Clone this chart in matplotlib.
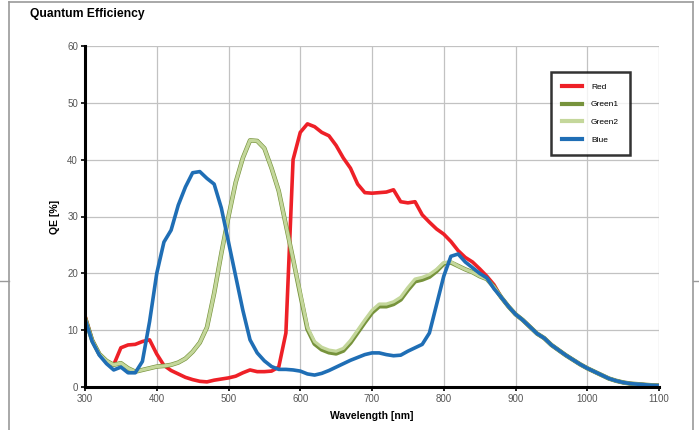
import matplotlib
matplotlib.use("Agg")
import matplotlib.pyplot as plt
from matplotlib.lines import Line2D

plt.rcParams['font.family'] = ['Liberation Sans', 'DejaVu Sans']

wavelength = list(range(300, 1110, 10))

# shared tail 880..1100 nm, all channels overlap there
tail = [15.8, 14.2, 12.8, 11.8, 10.6, 9.4, 8.6, 7.4, 6.5, 5.6, 4.8, 4.0,
        3.3, 2.7, 2.1, 1.5, 1.1, 0.8, 0.6, 0.5, 0.4, 0.3, 0.25]

red = [12.5, 8.3, 5.8, 4.5, 3.9, 6.9, 7.4, 7.5, 8.0, 8.3,
       5.8, 3.8, 2.9, 2.3, 1.7, 1.3, 1.0, 0.9, 1.2, 1.4,
       1.6, 1.9, 2.5, 3.0, 2.7, 2.7, 2.8, 3.5, 9.5, 40.0,
       44.8, 46.3, 45.8, 44.8, 44.2, 42.5, 40.3, 38.5, 35.7, 34.2,
       34.1, 34.2, 34.3, 34.7, 32.6, 32.4, 32.6, 30.3, 29.0, 27.8,
       26.9, 25.6, 24.0, 22.8, 22.0, 20.8, 19.5, 18.0] + tail

green2 = [12.2, 8.2, 5.8, 4.6, 3.9, 4.2, 3.3, 2.7, 3.0, 3.3,
          3.6, 3.7, 3.9, 4.3, 5.0, 6.2, 7.8, 10.5, 16.5, 23.5,
          30.0, 36.0, 40.3, 43.4, 43.3, 42.0, 38.5, 34.5, 28.5, 22.5,
          16.5, 10.5, 8.0, 7.0, 6.5, 6.3, 6.8, 8.2, 10.0, 11.8,
          13.5, 14.6, 14.6, 15.0, 15.8, 17.5, 19.0, 19.3, 19.8, 20.7,
          21.9, 22.0, 21.3, 20.7, 20.2, 19.5, 19.0, 17.6] + tail

green1 = [12.2, 8.2, 5.8, 4.6, 3.9, 4.2, 3.3, 2.7, 3.0, 3.3,
          3.6, 3.7, 3.9, 4.3, 5.0, 6.2, 7.8, 10.5, 16.5, 23.5,
          30.0, 36.0, 40.3, 43.4, 43.3, 42.0, 38.5, 34.5, 28.5, 22.5,
          16.3, 10.2, 7.6, 6.6, 6.1, 5.9, 6.4, 7.8, 9.6, 11.4,
          13.1, 14.2, 14.2, 14.6, 15.4, 17.1, 18.6, 18.9, 19.4, 20.4,
          21.7, 21.9, 21.3, 20.7, 20.2, 19.5, 19.0, 17.6] + tail

blue = [12.0, 8.0, 5.6, 4.1, 3.0, 3.5, 2.5, 2.5, 4.5, 11.5,
        20.0, 25.5, 27.6, 32.0, 35.2, 37.7, 37.9, 36.7, 35.7, 31.5,
        25.5, 19.5, 13.5, 8.3, 6.0, 4.6, 3.6, 3.1, 3.1, 3.0,
        2.8, 2.3, 2.1, 2.4, 2.9, 3.5, 4.1, 4.7, 5.2, 5.7,
        6.0, 6.0, 5.7, 5.5, 5.6, 6.3, 6.9, 7.5, 9.5, 14.5,
        19.5, 23.0, 23.4, 22.0, 21.0, 20.0, 19.2, 17.3] + tail

fig = plt.figure(figsize=(6.99, 4.30), dpi=100)
ax = fig.add_axes([85 / 699, 1 - 387 / 430, 574 / 699, 341 / 430])

ax.plot(wavelength, green1, color='#77933c', lw=3.2, label='Green1', zorder=3)
ax.plot(wavelength, green2, color='#c4d79b', lw=2.3, label='Green2', zorder=4)
ax.plot(wavelength, red, color='#ee2027', lw=2.6, label='Red', zorder=2)
ax.plot(wavelength, blue, color='#1f6eb5', lw=2.6, label='Blue', zorder=5)

ax.set_xlim(300, 1100)
ax.set_ylim(0, 60)
ax.set_xticks(range(300, 1101, 100))
ax.set_yticks(range(0, 61, 10))
ax.grid(True, color='#c2c2c2', lw=0.9)
ax.set_axisbelow(True)
for s in ['top', 'right']:
    ax.spines[s].set_visible(False)
for s in ['left', 'bottom']:
    ax.spines[s].set_linewidth(2.2)
    ax.spines[s].set_color('black')
    ax.spines[s].set_zorder(6)
ax.tick_params(axis='both', labelsize=7, labelcolor='#555555', color='black',
               length=3, width=1.2, pad=2)

ax.set_xlabel('Wavelength [nm]', fontsize=7.5, fontweight='bold', labelpad=5)
ax.set_ylabel('QE [%]', fontsize=7.5, fontweight='bold', labelpad=5)

fig.text(30 / 699, 1 - 14 / 430, 'Quantum Efficiency', fontsize=8.7,
         fontweight='bold', va='center', ha='left')

handles, labels = ax.get_legend_handles_labels()
order = [labels.index(n) for n in ['Red', 'Green1', 'Green2', 'Blue']]
leg = ax.legend([handles[i] for i in order], [labels[i] for i in order],
                loc='upper left', bbox_to_anchor=(551 / 699, 1 - 72 / 430),
                bbox_transform=fig.transFigure, fontsize=6, frameon=True,
                fancybox=False, edgecolor='black', handlelength=2.4,
                handletextpad=1.1, labelspacing=1.2, borderpad=1.3,
                borderaxespad=0)
leg.get_frame().set_linewidth(1.8)
for line in leg.get_lines():
    line.set_linewidth(3)

# page frame around the chart
fc = '#9a9a9a'
fig.add_artist(Line2D([9 / 699, 693 / 699], [1 - 1.5 / 430, 1 - 1.5 / 430], color=fc, lw=1.2))
fig.add_artist(Line2D([9 / 699, 9 / 699], [0, 1 - 1.5 / 430], color=fc, lw=1.2))
fig.add_artist(Line2D([693 / 699, 693 / 699], [0, 1 - 1.5 / 430], color=fc, lw=1.2))
fig.add_artist(Line2D([0, 9 / 699], [1 - 281 / 430, 1 - 281 / 430], color=fc, lw=1))
fig.add_artist(Line2D([693 / 699, 1], [1 - 281 / 430, 1 - 281 / 430], color=fc, lw=1))

fig.savefig('out.png', dpi=100)
